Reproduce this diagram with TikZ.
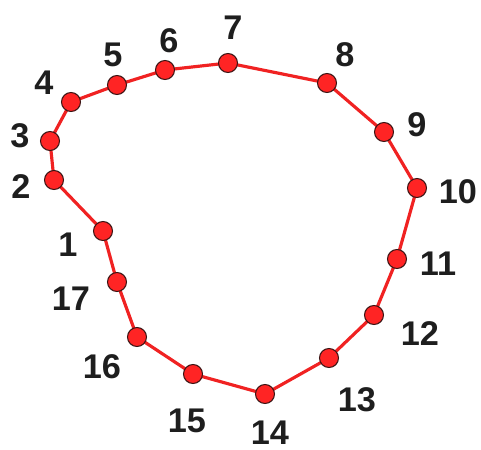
\documentclass[tikz,border=0pt]{standalone}
\usepackage{fontspec}
\setmainfont{Liberation Sans}
\usepackage{tikz}
\usetikzlibrary{positioning}
\definecolor{myRED}{HTML}{F02222}
\definecolor{myDOTRED}{HTML}{FF2424}
\definecolor{myEDGE}{HTML}{3A1414}
\definecolor{myLABEL}{HTML}{1E1E1E}

\begin{document}
\begin{tikzpicture}[x=0.02cm, y=-0.02cm,
    pt/.style={circle, draw=myEDGE, fill=myDOTRED, line width=0.6pt, inner sep=0pt, minimum size=0.38cm},
    lbl/.style={text=myLABEL, font=\fontsize{19.5}{22}\selectfont\bfseries, inner sep=0pt}]
    \useasboundingbox (0,0) rectangle (481,450);
    % Points
    \coordinate (p1) at (103,231);
    \coordinate (p2) at (54,180);
    \coordinate (p3) at (50,141);
    \coordinate (p4) at (71,102);
    \coordinate (p5) at (117,85);
    \coordinate (p6) at (165,70);
    \coordinate (p7) at (228,63);
    \coordinate (p8) at (327,83);
    \coordinate (p9) at (384,132);
    \coordinate (p10) at (417,188);
    \coordinate (p11) at (397,259);
    \coordinate (p12) at (374,315);
    \coordinate (p13) at (329,358);
    \coordinate (p14) at (265,394);
    \coordinate (p15) at (193,374);
    \coordinate (p16) at (137,337);
    \coordinate (p17) at (117,282);

    % Outline
    \draw[myRED, line width=1.8pt, line join=round]
        (p1) -- (p2) -- (p3) -- (p4) -- (p5) -- (p6) -- (p7) -- (p8) -- (p9)
        -- (p10) -- (p11) -- (p12) -- (p13) -- (p14) -- (p15) -- (p16) -- (p17) -- cycle;

    % Dots
    \foreach \i in {1,...,17}
        \node[pt] (d\i) at (p\i) {};

    % Labels
    \node[lbl] (l1) at (68,245) {1};
    \node[lbl] (l2) at (21,187) {2};
    \node[lbl] (l3) at (20,136) {3};
    \node[lbl] (l4) at (44,83) {4};
    \node[lbl] (l5) at (113,55) {5};
    \node[lbl] (l6) at (169,41) {6};
    \node[lbl] (l7) at (233,28) {7};
    \node[lbl] (l8) at (345,55) {8};
    \node[lbl] (l9) at (417,125) {9};
    \node[lbl] (l10) at (458,192) {10};
    \node[lbl] (l11) at (438,264) {11};
    \node[lbl] (l12) at (420,334) {12};
    \node[lbl] (l13) at (357,400) {13};
    \node[lbl] (l14) at (270,433) {14};
    \node[lbl] (l15) at (187,421) {15};
    \node[lbl] (l16) at (102,367) {16};
    \node[lbl] (l17) at (71,299) {17};
\end{tikzpicture}
\end{document}
